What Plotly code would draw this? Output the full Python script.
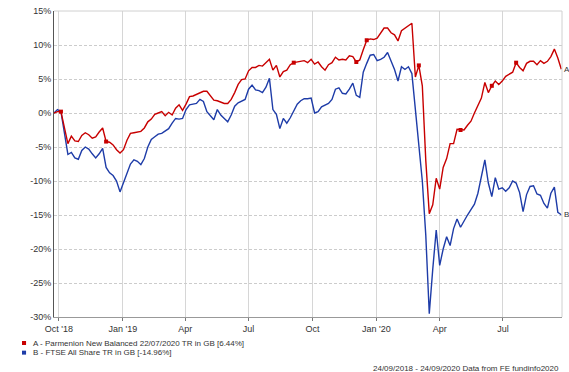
import pandas as pd
import plotly.graph_objects as go

# 5-day sampling grid from 24/09/2018 to 23/09/2020
dates = pd.date_range("2018-09-24", periods=147, freq="5D")

fund_a = [
    0.0, 0.2, 0.2, -2.2, -4.5, -3.4, -4.1, -4.2, -3.3, -2.9,
    -3.2, -3.7, -3.5, -2.8, -2.2, -4.2, -4.3, -4.7, -5.4, -5.9,
    -5.4, -4.0, -3.0, -2.9, -2.8, -2.7, -2.2, -1.3, -0.9, -0.2,
    0.0, 0.2, -0.4, 0.1, -0.3, 0.7, 1.2, 0.4, 1.3, 2.4,
    2.5, 2.7, 2.9, 3.2, 3.2, 2.6, 1.9, 1.8, 1.6, 1.4,
    1.4, 2.0, 3.0, 4.2, 4.9, 5.0, 6.2, 6.7, 6.7, 7.0,
    6.9, 7.4, 7.9, 6.3, 7.0, 5.3, 6.1, 6.3, 7.1, 7.4,
    7.5, 7.5, 7.7, 7.4, 7.9, 7.2, 7.5, 6.8, 6.3, 7.1,
    7.4, 8.2, 7.8, 7.9, 7.8, 8.4, 8.3, 7.5, 7.8, 9.3,
    10.7, 10.9, 10.8, 11.0, 11.7, 12.5, 12.5, 11.8, 11.5, 10.6,
    12.1, 12.5, 12.9, 13.2, 5.3, 7.0, 4.0, -7.0, -14.8, -13.5,
    -9.6, -11.2, -8.0, -6.7, -4.5, -4.5, -2.4, -2.5, -2.5, -1.8,
    -1.2, 0.0, 1.2, 2.2, 4.5, 3.0, 4.0, 4.7, 4.2, 4.7,
    5.4, 5.7, 6.0, 7.4, 6.7, 6.2, 7.3, 7.6, 7.6, 7.1,
    7.7, 7.3, 7.6, 8.3, 9.4, 8.1, 6.44,
]

index_b = [
    0.0, 0.5, 0.2, -3.3, -6.1, -5.8, -6.6, -6.8, -5.5, -5.0,
    -5.3, -6.0, -6.6, -6.0, -5.2, -8.0, -8.8, -9.2, -10.0, -11.6,
    -10.2, -9.0, -7.5, -6.9, -7.1, -7.6, -6.7, -5.0, -3.9, -3.5,
    -3.1, -3.0, -2.6, -2.3, -1.5, -0.8, -0.9, -0.8, 0.5, 1.2,
    1.3, 1.4, 2.0, 1.7, 0.2, -0.4, -1.0, 0.5, -0.3, -0.8,
    -1.3, -0.3, 1.0, 1.5, 1.7, 2.0, 3.5, 4.1, 3.4, 3.3,
    3.0, 3.8, 5.1, 0.5, -0.2, -2.3, -0.8, -1.5, -0.7, 0.4,
    1.3, 1.8, 2.1, 2.1, 2.2, 0.0, 0.2, 0.9, 1.2, 1.4,
    2.0, 3.5, 3.7, 2.9, 2.8, 3.5, 4.4, 2.6, 2.3, 6.0,
    7.3, 8.5, 8.6, 7.7, 7.9, 8.2, 8.9, 7.7, 6.4, 4.7,
    6.8, 6.4, 6.8, 5.8, 0.5, -4.2, -10.0, -18.0, -29.5, -23.0,
    -17.2, -22.4, -20.0, -18.2, -19.5, -17.0, -15.6, -16.8, -15.8, -15.0,
    -14.2, -13.4, -11.8, -9.5, -6.9, -10.3, -12.3, -9.5, -11.2, -11.0,
    -11.5, -11.0, -10.0, -10.3, -11.7, -14.5, -12.0, -10.8, -10.7, -11.9,
    -12.1, -13.3, -14.0, -11.8, -10.9, -14.6, -14.96,
]

# sample indices carrying event markers on series A
marker_idx_a = [2, 15, 69, 87, 90, 105, 117, 126, 133]

tick_dates = ["2018-10-01", "2019-01-01", "2019-04-01", "2019-07-01",
              "2019-10-01", "2020-01-01", "2020-04-01", "2020-07-01"]
tick_text = ["Oct '18", "Jan '19", "Apr", "Jul", "Oct", "Jan '20", "Apr", "Jul"]
y_ticks = [15, 10, 5, 0, -5, -10, -15, -20, -25, -30]

legend_a = "A - Parmenion New Balanced 22/07/2020 TR in GB [6.44%]"
legend_b = "B - FTSE All Share TR in GB [-14.96%]"
footer = "24/09/2018 - 24/09/2020 Data from FE fundinfo2020"

RED = "#c80000"
BLUE = "#1e3ca8"
FONT = "Liberation Sans, Arial, sans-serif"
TXT = "#333333"

fig = go.Figure()
fig.add_trace(go.Scatter(x=dates, y=index_b, mode="lines",
                         line=dict(color=BLUE, width=1.4), showlegend=False))
fig.add_trace(go.Scatter(x=dates, y=fund_a, mode="lines",
                         line=dict(color=RED, width=1.4), showlegend=False))
fig.add_trace(go.Scatter(x=[dates[i] for i in marker_idx_a],
                         y=[fund_a[i] for i in marker_idx_a], mode="markers",
                         marker=dict(color=RED, symbol="square", size=4),
                         showlegend=False))

fig.update_layout(
    width=569, height=372,
    margin=dict(l=54, r=7, t=11, b=55),
    paper_bgcolor="white", plot_bgcolor="white",
    font=dict(family=FONT, size=8, color=TXT),
    showlegend=False,
)
fig.update_xaxes(
    range=["2018-09-24", "2020-09-24"],
    tickvals=tick_dates, ticktext=tick_text,
    showgrid=True, gridcolor="#d6d6d6", gridwidth=1,
    showline=True, linecolor="#999999", linewidth=1,
    ticks="outside", ticklen=3, tickcolor="#777777",
    tickfont=dict(size=9, color=TXT), zeroline=False,
)
fig.update_yaxes(
    range=[-30, 15], tickvals=y_ticks,
    ticktext=[f"{v}%" for v in y_ticks],
    showgrid=True, gridcolor="#cccccc", griddash="3px,2px", gridwidth=1,
    showline=True, linecolor="#555555", linewidth=1,
    ticks="", tickfont=dict(size=9, color=TXT), zeroline=False,
)

# frame (top and right edges)
fig.add_shape(type="line", xref="paper", yref="paper", x0=0, x1=1, y0=1, y1=1,
              line=dict(color="#d0d0d0", width=1))
fig.add_shape(type="line", xref="paper", yref="paper", x0=1, x1=1, y0=0, y1=1,
              line=dict(color="#d0d0d0", width=1))

# end labels
fig.add_annotation(x=dates[-1], y=fund_a[-1], text="A", showarrow=False,
                   xanchor="left", xshift=1, font=dict(size=8, color=TXT))
fig.add_annotation(x=dates[-1], y=index_b[-1], text="B", showarrow=False,
                   xanchor="left", xshift=1, font=dict(size=8, color=TXT))

# legend
for color, label, yc in [(RED, legend_a, -0.085), (BLUE, legend_b, -0.1165)]:
    fig.add_shape(type="rect", xref="paper", yref="paper",
                  x0=-0.063, x1=-0.055, y0=yc - 0.0065, y1=yc + 0.0065,
                  fillcolor=color, line=dict(width=0))
    fig.add_annotation(xref="paper", yref="paper", x=-0.045, y=yc, text=label,
                       showarrow=False, xanchor="left", yanchor="middle",
                       font=dict(size=8, color=TXT))

fig.add_annotation(xref="paper", yref="paper", x=0.998, y=-0.167, text=footer,
                   showarrow=False, xanchor="right", yanchor="middle",
                   font=dict(size=8, color=TXT))

fig.write_html(
    "out.html",
    config={"displayModeBar": False},
    post_script="document.body.style.margin='0px';document.body.style.overflow='hidden';",
)
